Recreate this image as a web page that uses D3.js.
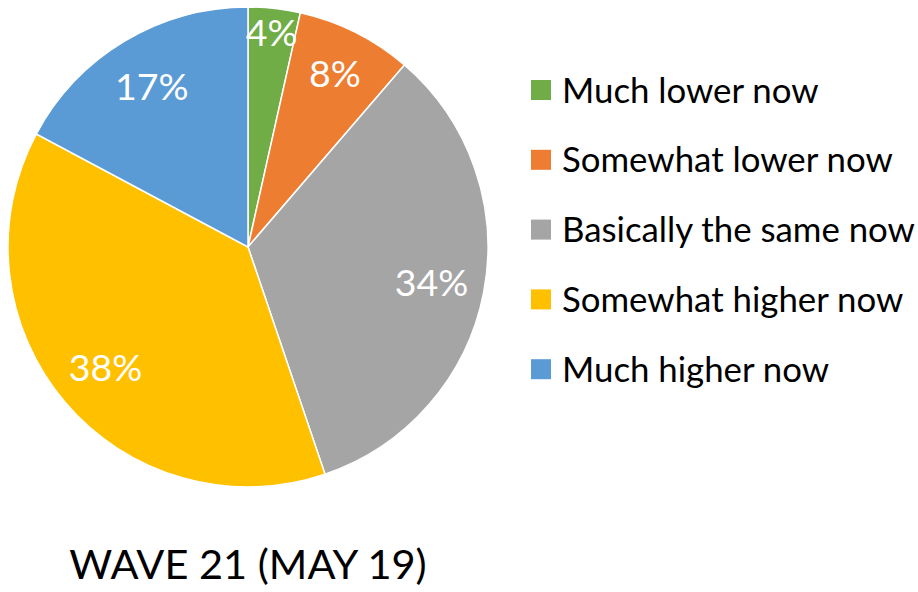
<!DOCTYPE html>
<html>
<head>
<meta charset="UTF-8">
<title>Wave 21 pie</title>
<script src="https://d3js.org/d3.v7.min.js"></script>
<style>
body { margin: 0; background: #fff; }
text { font-family: Lato, "Noto Sans", sans-serif; }
</style>
</head>
<body>
<script>
// categories, shares and the printed labels
var categories = ["Much lower now", "Somewhat lower now", "Basically the same now", "Somewhat higher now", "Much higher now"];
var shares = [3.5, 7.8, 33.5, 38.0, 17.2];
var shareLabels = ["4%", "8%", "34%", "38%", "17%"];
var colors = ["#70ad47", "#ed7d31", "#a5a5a5", "#ffc000", "#5b9bd5"];
var title = "WAVE 21 (MAY 19)";

var width = 918, height = 592;
var cx = 248, cy = 247, radius = 240;
// small slices get their labels pushed a bit outwards
var labelRadius = [216, 194, 187, 187, 187];

var svg = d3.select("body").append("svg")
    .attr("width", width)
    .attr("height", height);

var rows = categories.map(function(c, i) {
    return {name: c, value: shares[i], label: shareLabels[i], color: colors[i], i: i};
});

var pie = d3.pie().sort(null).value(function(d) { return d.value; });
var arc = d3.arc().innerRadius(0).outerRadius(radius);

var g = svg.append("g").attr("transform", "translate(" + cx + "," + cy + ")");
var arcs = pie(rows);

g.selectAll("path")
    .data(arcs)
    .enter().append("path")
    .attr("d", arc)
    .attr("fill", function(d) { return d.data.color; })
    .attr("stroke", "#fff")
    .attr("stroke-width", 1.5);

g.selectAll("text.pct")
    .data(arcs)
    .enter().append("text")
    .attr("class", "pct")
    .attr("transform", function(d) {
        var a = (d.startAngle + d.endAngle) / 2;
        var r = labelRadius[d.index];
        return "translate(" + (Math.sin(a) * r) + "," + (-Math.cos(a) * r) + ")";
    })
    .attr("text-anchor", "middle")
    .attr("dy", "0.36em")
    .attr("fill", "#fff")
    .style("font-size", "37.5px")
    .text(function(d) { return d.data.label; });

// legend
var legend = svg.append("g").attr("transform", "translate(531,90)");
var item = legend.selectAll("g")
    .data(rows)
    .enter().append("g")
    .attr("transform", function(d, i) { return "translate(0," + (i * 69.8) + ")"; });

item.append("rect")
    .attr("x", 0).attr("y", -10)
    .attr("width", 20).attr("height", 20)
    .attr("fill", function(d) { return d.color; });

item.append("text")
    .attr("x", 31)
    .attr("y", 12.5)
    .style("font-size", "34.8px")
    .attr("fill", "#000")
    .text(function(d) { return d.name; });

svg.append("text")
    .attr("x", cx)
    .attr("y", 579)
    .attr("text-anchor", "middle")
    .style("font-size", "41.5px")
    .attr("fill", "#000")
    .text(title);
</script>
</body>
</html>
